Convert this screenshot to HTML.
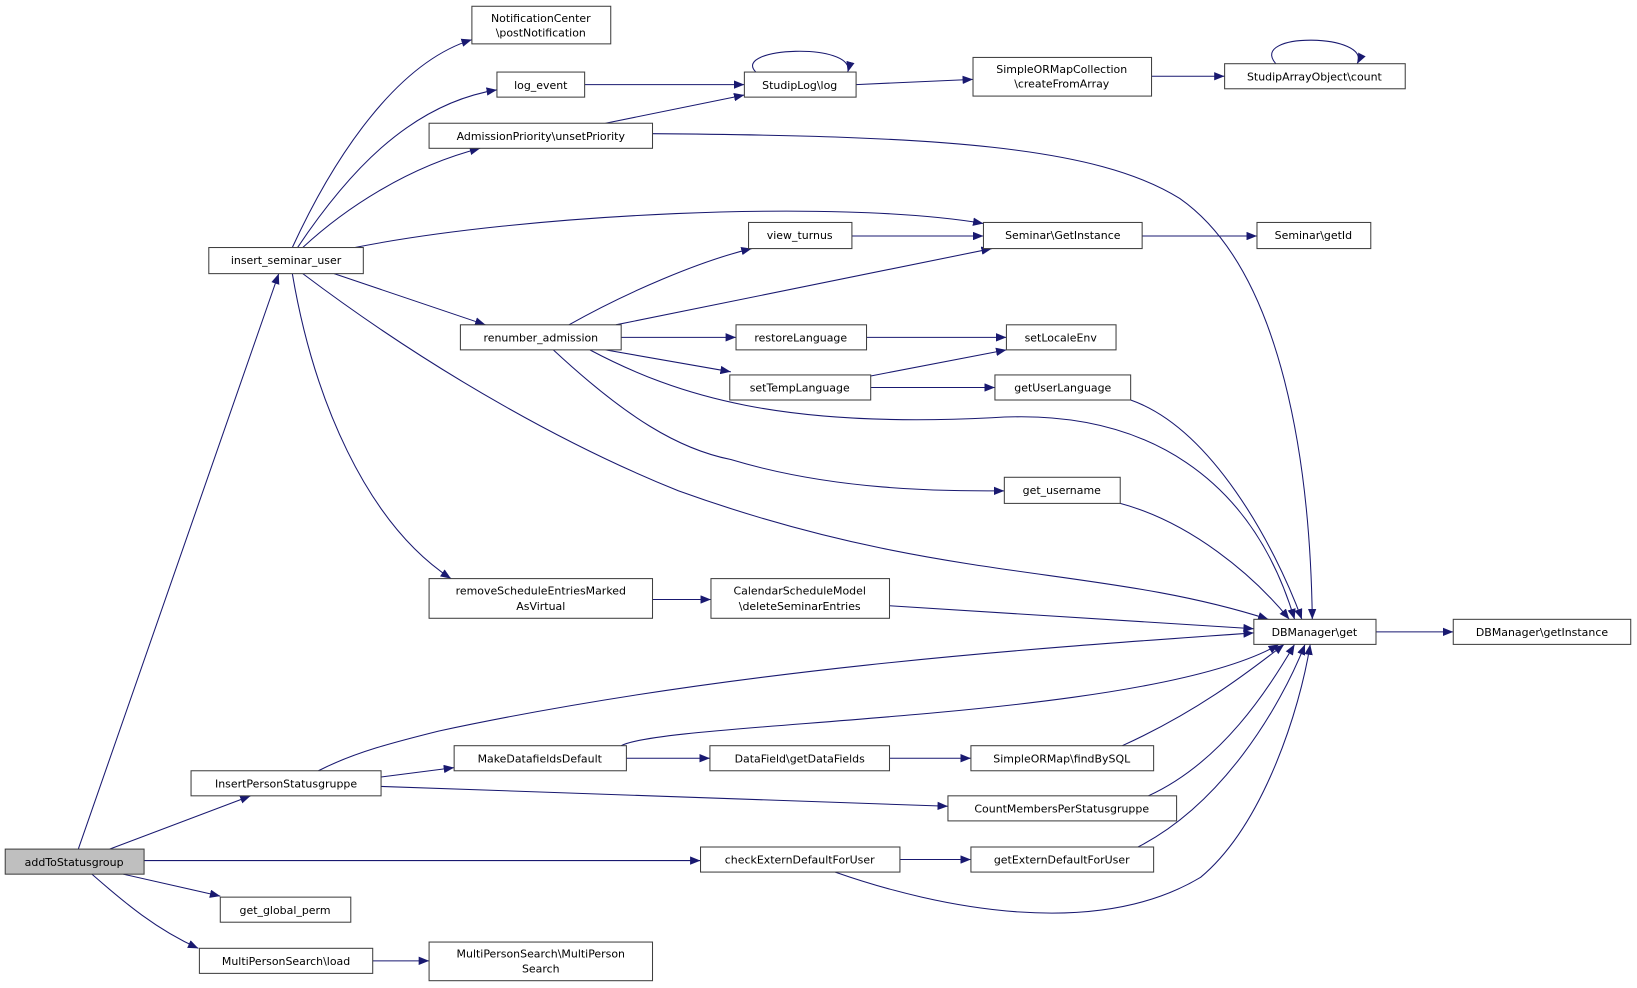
<!DOCTYPE html>
<html><head><meta charset="utf-8"><style>
html,body{margin:0;padding:0;background:#fff;}
svg{display:block;}
text{font-family:"DejaVu Sans","Liberation Sans",sans-serif;font-size:10.5px;fill:#000;text-anchor:middle;}
.n{fill:#fff;stroke:#404040;stroke-width:1;}
.e{fill:none;stroke:#191970;stroke-width:1;marker-end:url(#a);}
</style></head><body>
<svg width="1637" height="988" viewBox="0 0 1568 946" preserveAspectRatio="none" xmlns="http://www.w3.org/2000/svg">
<defs><marker id="a" viewBox="0 0 10 8" refX="10" refY="4" markerWidth="10" markerHeight="8" markerUnits="userSpaceOnUse" orient="auto"><path d="M0,0 L10,4 L0,8 z" fill="#191970"/></marker></defs>
<g>
<path class="e" d="M75,813 L267,262"/>
<path class="e" d="M105,813 L240,762"/>
<path class="e" d="M138,824 L671,824"/>
<path class="e" d="M118,837 L211,858"/>
<path class="e" d="M88,837 C120,865 150,890 190,908"/>
<path class="e" d="M357,920 L411,920"/>
<path class="e" d="M280,237 C320,150 380,60 452,38"/>
<path class="e" d="M285,237 C330,170 390,100 476,86"/>
<path class="e" d="M290,237 C330,200 390,160 460,142"/>
<path class="e" d="M340,237 C500,205 800,190 942,214"/>
<path class="e" d="M320,262 L465,311"/>
<path class="e" d="M290,262 C420,360 550,430 650,470 C900,560 1050,540 1215,593"/>
<path class="e" d="M280,262 C300,380 350,500 432,554"/>
<path class="e" d="M560,81 L713,81"/>
<path class="e" d="M580,118 L713,91"/>
<path class="e" d="M625,128 C900,130 1050,140 1130,190 C1230,260 1255,450 1257,593"/>
<path class="e" d="M724,69 C700,45 820,40 812,69"/>
<path class="e" d="M820,81 L932,76"/>
<path class="e" d="M1103,73 L1173,73"/>
<path class="e" d="M1222,61 C1195,30 1315,32 1300,61"/>
<path class="e" d="M816,226 L942,226"/>
<path class="e" d="M1094,226 L1204,226"/>
<path class="e" d="M545,311 C600,280 670,250 720,238"/>
<path class="e" d="M590,311 L950,238"/>
<path class="e" d="M595,323 L705,323"/>
<path class="e" d="M580,335 L700,356"/>
<path class="e" d="M565,335 C650,380 750,410 950,400 C1100,390 1200,460 1240,593"/>
<path class="e" d="M530,335 C600,400 650,430 700,440 C800,470 900,470 962,470"/>
<path class="e" d="M830,323 L964,323"/>
<path class="e" d="M834,360 L964,335"/>
<path class="e" d="M834,371 L953,371"/>
<path class="e" d="M1083,383 C1160,410 1220,520 1247,593"/>
<path class="e" d="M1073,482 C1140,500 1200,550 1235,593"/>
<path class="e" d="M625,574 L681,574"/>
<path class="e" d="M852,580 L1201,602"/>
<path class="e" d="M305,738 C340,720 380,710 420,700 C700,640 1000,620 1201,606"/>
<path class="e" d="M365,744 L435,735"/>
<path class="e" d="M365,753 L908,772"/>
<path class="e" d="M595,714 C640,690 1100,690 1225,617"/>
<path class="e" d="M600,726 L680,726"/>
<path class="e" d="M852,726 L930,726"/>
<path class="e" d="M1075,714 C1150,680 1200,640 1230,617"/>
<path class="e" d="M1100,762 C1170,730 1215,660 1240,617"/>
<path class="e" d="M1090,811 C1170,770 1225,680 1250,617"/>
<path class="e" d="M800,835 C900,870 1050,900 1150,840 C1210,790 1245,680 1255,617"/>
<path class="e" d="M862,823 L930,823"/>
<path class="e" d="M1318,605 L1392,605"/>
</g>
<g>
<rect class="n" x="452" y="6" width="133" height="36"/><text x="518" y="21">NotificationCenter</text><text x="518" y="35">\postNotification</text>
<rect class="n" x="476" y="69" width="84" height="24"/><text x="518" y="85">log_event</text>
<rect class="n" x="713" y="69" width="107" height="24"/><text x="766" y="85">StudipLog\log</text>
<rect class="n" x="932" y="55" width="171" height="37"/><text x="1017" y="70">SimpleORMapCollection</text><text x="1017" y="84">\createFromArray</text>
<rect class="n" x="1173" y="61" width="173" height="24"/><text x="1259" y="77">StudipArrayObject\count</text>
<rect class="n" x="411" y="118" width="214" height="24"/><text x="518" y="134">AdmissionPriority\unsetPriority</text>
<rect class="n" x="200" y="237" width="148" height="25"/><text x="274" y="253">insert_seminar_user</text>
<rect class="n" x="717" y="213" width="99" height="25"/><text x="766" y="229">view_turnus</text>
<rect class="n" x="942" y="213" width="152" height="25"/><text x="1018" y="229">Seminar\GetInstance</text>
<rect class="n" x="1204" y="213" width="109" height="25"/><text x="1258" y="229">Seminar\getId</text>
<rect class="n" x="441" y="311" width="154" height="24"/><text x="518" y="327">renumber_admission</text>
<rect class="n" x="705" y="311" width="125" height="24"/><text x="767" y="327">restoreLanguage</text>
<rect class="n" x="964" y="311" width="105" height="24"/><text x="1016" y="327">setLocaleEnv</text>
<rect class="n" x="699" y="359" width="135" height="24"/><text x="766" y="375">setTempLanguage</text>
<rect class="n" x="953" y="359" width="130" height="24"/><text x="1018" y="375">getUserLanguage</text>
<rect class="n" x="962" y="457" width="111" height="25"/><text x="1017" y="473">get_username</text>
<rect class="n" x="411" y="554" width="214" height="38"/><text x="518" y="569">removeScheduleEntriesMarked</text><text x="518" y="584">AsVirtual</text>
<rect class="n" x="681" y="554" width="171" height="38"/><text x="766" y="569">CalendarScheduleModel</text><text x="766" y="584">\deleteSeminarEntries</text>
<rect class="n" x="1201" y="593" width="117" height="24"/><text x="1259" y="609">DBManager\get</text>
<rect class="n" x="1392" y="593" width="170" height="24"/><text x="1477" y="609">DBManager\getInstance</text>
<rect class="n" x="183" y="738" width="182" height="24"/><text x="274" y="754">InsertPersonStatusgruppe</text>
<rect class="n" x="435" y="714" width="165" height="24"/><text x="517" y="730">MakeDatafieldsDefault</text>
<rect class="n" x="680" y="714" width="172" height="24"/><text x="766" y="730">DataField\getDataFields</text>
<rect class="n" x="930" y="714" width="175" height="24"/><text x="1017" y="730">SimpleORMap\findBySQL</text>
<rect class="n" x="908" y="762" width="219" height="24"/><text x="1017" y="778">CountMembersPerStatusgruppe</text>
<rect x="5" y="813" width="133" height="24" fill="#bfbfbf" stroke="#404040"/><text x="71" y="829">addToStatusgroup</text>
<rect class="n" x="671" y="811" width="191" height="24"/><text x="766" y="827">checkExternDefaultForUser</text>
<rect class="n" x="930" y="811" width="175" height="24"/><text x="1017" y="827">getExternDefaultForUser</text>
<rect class="n" x="211" y="859" width="125" height="24"/><text x="273" y="875">get_global_perm</text>
<rect class="n" x="191" y="908" width="166" height="24"/><text x="274" y="924">MultiPersonSearch\load</text>
<rect class="n" x="411" y="902" width="214" height="37"/><text x="518" y="917">MultiPersonSearch\MultiPerson</text><text x="518" y="931">Search</text>
</g>
</svg>
</body></html>
